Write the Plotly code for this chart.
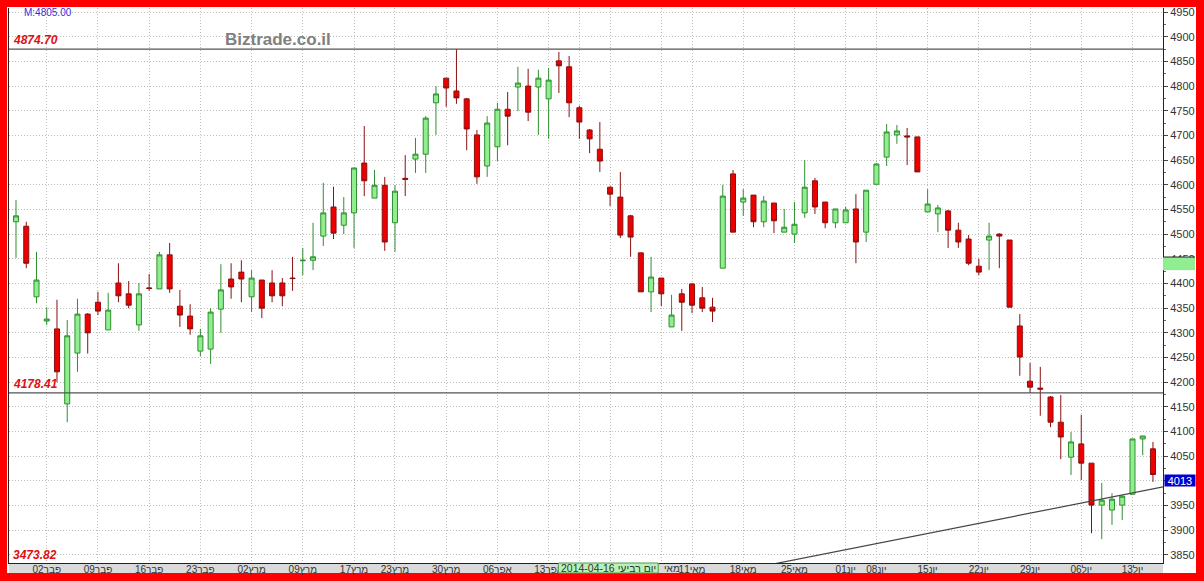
import plotly.graph_objects as go

# ---------------- data ----------------
opens = [4525, 4516, 4373, 4324, 4308, 4156, 4259, 4338, 4362, 4306,
         4401, 4379, 4316, 4391, 4389, 4458, 4354, 4334, 4263, 4267,
         4348, 4409, 4423, 4373, 4407, 4401, 4401, 4411, 4446, 4447,
         4496, 4555, 4518, 4543, 4644, 4573, 4599, 4523, 4613, 4652,
         4662, 4766, 4816, 4790, 4774, 4701, 4638, 4677, 4753, 4798,
         4800, 4798, 4774, 4851, 4839, 4756, 4711, 4672, 4595, 4575,
         4537, 4462, 4383, 4411, 4312, 4379, 4399, 4371, 4352, 4431,
         4622, 4565, 4579, 4525, 4563, 4504, 4500, 4543, 4608, 4565,
         4523, 4523, 4551, 4504, 4601, 4656, 4701, 4699, 4697, 4545,
         4541, 4547, 4508, 4490, 4435, 4488, 4500, 4488, 4314, 4202,
         4188, 4170, 4119, 4048, 4075, 4036, 3951, 3941, 3951, 3973,
         4085, 4065]
highs = [4569, 4525, 4464, 4352, 4367, 4326, 4369, 4340, 4383, 4381,
         4441, 4405, 4401, 4419, 4464, 4482, 4387, 4358, 4308, 4350,
         4439, 4441, 4447, 4427, 4407, 4427, 4411, 4454, 4472, 4523,
         4604, 4596, 4575, 4634, 4719, 4630, 4616, 4599, 4660, 4695,
         4739, 4800, 4816, 4875, 4776, 4711, 4739, 4766, 4788, 4839,
         4835, 4833, 4837, 4869, 4861, 4760, 4713, 4727, 4597, 4626,
         4539, 4462, 4454, 4411, 4377, 4389, 4401, 4393, 4371, 4600,
         4630, 4591, 4579, 4577, 4563, 4551, 4565, 4650, 4614, 4565,
         4551, 4555, 4581, 4589, 4644, 4723, 4721, 4715, 4697, 4591,
         4559, 4549, 4523, 4498, 4450, 4523, 4502, 4488, 4338, 4239,
         4231, 4172, 4174, 4099, 4134, 4036, 3996, 3975, 3971, 4085,
         4091, 4079]
lows = [4452, 4431, 4360, 4316, 4200, 4119, 4221, 4258, 4336, 4306,
        4362, 4350, 4304, 4385, 4389, 4381, 4312, 4296, 4253, 4237,
        4300, 4369, 4362, 4342, 4330, 4362, 4354, 4385, 4417, 4427,
        4476, 4490, 4500, 4472, 4577, 4573, 4466, 4464, 4577, 4624,
        4624, 4701, 4758, 4764, 4670, 4602, 4616, 4648, 4680, 4749,
        4729, 4701, 4693, 4786, 4737, 4693, 4664, 4626, 4557, 4492,
        4454, 4383, 4342, 4354, 4312, 4304, 4340, 4342, 4322, 4431,
        4504, 4537, 4514, 4514, 4502, 4504, 4482, 4533, 4541, 4512,
        4512, 4523, 4441, 4484, 4601, 4638, 4683, 4640, 4626, 4545,
        4504, 4472, 4472, 4437, 4417, 4427, 4431, 4352, 4213, 4178,
        4132, 4109, 4044, 4012, 4002, 3894, 3882, 3911, 3921, 3973,
        4052, 3998]
closes = [4537, 4441, 4407, 4328, 4221, 4294, 4338, 4300, 4344, 4346,
          4375, 4356, 4379, 4390, 4458, 4389, 4336, 4308, 4294, 4342,
          4387, 4393, 4409, 4411, 4350, 4375, 4375, 4410, 4447, 4454,
          4543, 4502, 4543, 4634, 4608, 4599, 4484, 4587, 4611, 4662,
          4735, 4784, 4796, 4776, 4713, 4616, 4725, 4753, 4739, 4806,
          4747, 4816, 4812, 4841, 4766, 4727, 4693, 4648, 4581, 4498,
          4494, 4383, 4413, 4379, 4336, 4362, 4356, 4350, 4344, 4577,
          4504, 4573, 4525, 4567, 4527, 4514, 4520, 4595, 4555, 4523,
          4551, 4549, 4484, 4589, 4642, 4707, 4709, 4697, 4626, 4561,
          4553, 4508, 4484, 4441, 4423, 4496, 4496, 4352, 4251, 4190,
          4186, 4119, 4089, 4079, 4036, 3951, 3961, 3963, 3969, 4085,
          4091, 4013]

# week starts (grid lines); labels hidden under the hover box are left blank
week_idx = [3, 8, 13, 18, 23, 28, 33, 37, 42, 47, 52, 55, 58, 63, 66,
            71, 76, 81, 84, 89, 94, 99, 104, 109]
week_labels = ["02פבר", "09פבר", "16פבר", "23פבר", "02מרץ", "09מרץ",
               "17מרץ", "23מרץ", "30מרץ", "06אפר", "13אפר", "",
               "", "", "11מאי", "18מאי", "25מאי", "01יונ",
               "08יונ", "15יונ", "22יונ", "29יונ", "06יול", "13יול"]
partial_label = "מאי"          # visible tail of the 04-May label
partial_label_idx = 63
y_ticks = list(range(3850, 4951, 50))
y_labels = ["" if v == 4000 else str(v) for v in y_ticks]

level_high = 4874.70
level_mid = 4178.41
level_low = 3473.82
trend_x = [60, 112]
trend_y = [3774.4, 3988.0]
max_text = "M:4805.00"
hover_idx = 53
hover_text = "2014-04-16 יום רביעי"
marker_band = [4427, 4453.6]

# ---------------- geometry ----------------
W, H = 1204, 581
L, R, T, B = 9, 1163, 8, 563
PW, PH = R - L, B - T
X_RANGE = [-0.684, 111.98]
Y_RANGE = [3833.7, 4958.1]


def px_x(p):
    return (p - L) / PW


def px_y(p):
    return (B - p) / PH


FONT = "Liberation Sans, Arial, DejaVu Sans, sans-serif"
idx = list(range(len(closes)))

fig = go.Figure()
fig.add_trace(go.Candlestick(
    x=idx, open=opens, high=highs, low=lows, close=closes,
    increasing=dict(line=dict(color="#2f8f2f", width=1), fillcolor="#90ee90"),
    decreasing=dict(line=dict(color="#8b1010", width=1), fillcolor="#ee0000"),
    hoverinfo="skip", showlegend=False,
))

shapes = [
    dict(type="rect", xref="paper", yref="paper", layer="below",
         x0=px_x(7), x1=px_x(1196), y0=px_y(573), y1=px_y(7),
         fillcolor="white", line=dict(width=0)),
    dict(type="rect", xref="paper", yref="paper", layer="below",
         x0=0, x1=1, y0=px_y(573), y1=0,
         fillcolor="#dadada", line=dict(width=0)),
    dict(type="line", xref="paper", yref="y", x0=0, x1=1,
         y0=level_high, y1=level_high, line=dict(color="#555555", width=1.3)),
    dict(type="line", xref="paper", yref="y", x0=0, x1=1,
         y0=level_mid, y1=level_mid, line=dict(color="#555555", width=1.3)),
    dict(type="line", xref="x", yref="y", x0=trend_x[0], x1=trend_x[1],
         y0=trend_y[0], y1=trend_y[1], line=dict(color="#444444", width=1.2)),
    dict(type="rect", xref="paper", yref="y", x0=1, x1=px_x(1195),
         y0=marker_band[0], y1=marker_band[1],
         fillcolor="#90ee90", line=dict(width=0)),
    dict(type="line", xref="paper", yref="y", x0=1, x1=px_x(1195),
         y0=marker_band[1], y1=marker_band[1], line=dict(color="#222222", width=1)),
    dict(type="rect", xref="x", yref="paper", layer="above",
         x0=hover_idx - 0.05, x1=hover_idx + 9.7, y0=px_y(573), y1=0,
         fillcolor="#b8f2b8", line=dict(color="#559955", width=1)),
]

red_font = dict(family=FONT, size=12, color="#e01010", style="italic", weight="bold")
annotations = [
    dict(text="<b>Biztrade.co.il</b>", xref="paper", yref="paper",
         x=px_x(278), y=px_y(40), xanchor="center", yanchor="middle",
         showarrow=False, font=dict(family=FONT, size=17, color="#808080")),
    dict(text=max_text, xref="paper", yref="paper", x=px_x(22), y=px_y(12),
         xanchor="left", yanchor="middle", showarrow=False,
         font=dict(family=FONT, size=10, color="#3030e0")),
    dict(text=f"{level_high:.2f}", xref="paper", yref="y", x=px_x(11), y=level_high,
         xanchor="left", yanchor="bottom", showarrow=False, font=red_font),
    dict(text=f"{level_mid:.2f}", xref="paper", yref="y", x=px_x(11), y=level_mid,
         xanchor="left", yanchor="bottom", showarrow=False, font=red_font),
    dict(text=f"{level_low:.2f}", xref="paper", yref="paper", x=px_x(11), y=px_y(555),
         xanchor="left", yanchor="middle", showarrow=False, font=red_font),
    dict(text=f"{closes[-1]}", xref="paper", yref="paper", x=px_x(1164), y=px_y(480.5),
         xanchor="left", yanchor="middle", showarrow=False,
         bgcolor="#0000d0", width=30, height=11, borderpad=0,
         font=dict(family=FONT, size=11, color="white")),
    dict(text=hover_text, xref="x", yref="paper", x=hover_idx, y=px_y(568),
         xanchor="left", yanchor="middle", showarrow=False,
         font=dict(family=FONT, size=10.5, color="#333333")),
    dict(text=partial_label, xref="x", yref="paper", x=partial_label_idx, y=px_y(568),
         xanchor="left", yanchor="middle", showarrow=False, xshift=1,
         font=dict(family=FONT, size=10, color="#333333")),
]

fig.update_layout(
    width=W, height=H,
    margin=dict(l=L, r=W - R, t=T, b=H - B, pad=0, autoexpand=False),
    paper_bgcolor="#ff0000", plot_bgcolor="white",
    showlegend=False, hovermode=False,
    shapes=shapes, annotations=annotations,
    font=dict(family=FONT, size=10, color="#333333"),
    xaxis=dict(
        range=X_RANGE, rangeslider=dict(visible=False), automargin=False,
        tickmode="array", tickvals=week_idx, ticktext=week_labels, tickangle=0,
        showgrid=True, gridcolor="#bdbdbd", griddash="1px,2px", gridwidth=1,
        ticks="", showline=True, linecolor="#222222", linewidth=1,
        zeroline=False, tickfont=dict(family=FONT, size=10, color="#333333"),
        ticklabelstandoff=-3,
    ),
    yaxis=dict(
        range=Y_RANGE, side="right", automargin=False,
        tickmode="array", tickvals=y_ticks, ticktext=y_labels,
        showgrid=True, gridcolor="#bdbdbd", griddash="1px,2px", gridwidth=1,
        ticks="outside", ticklen=4, tickcolor="#444444",
        showline=True, linecolor="#222222", linewidth=1, mirror=True,
        zeroline=False, tickfont=dict(family=FONT, size=11, color="#333333"),
        minor=dict(ticks="outside", ticklen=2, tickcolor="#666666",
                   tickmode="linear", tick0=3825, dtick=50, showgrid=False),
    ),
)

fig.write_html(
    "out.html",
    config={"displayModeBar": False},
    post_script="document.body.style.margin='0';document.body.style.background='#ff0000';",
)
